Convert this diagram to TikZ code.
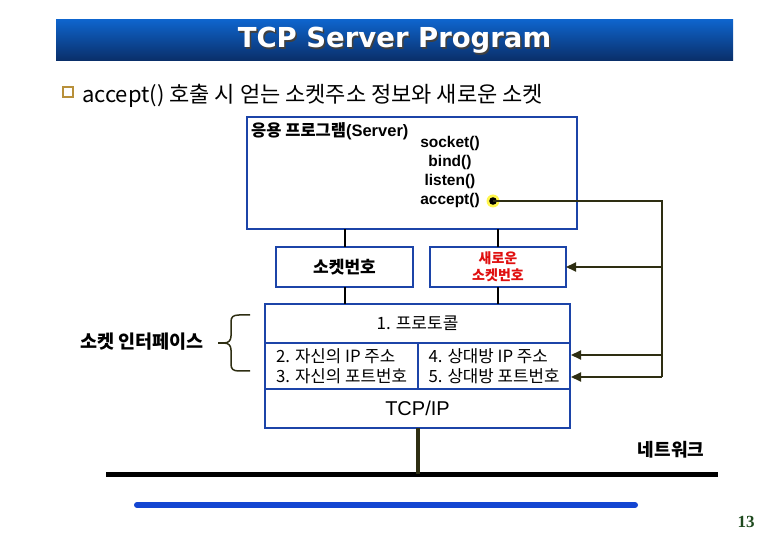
\documentclass[tikz,border=0pt]{standalone}
\usepackage{fontspec}
\setmainfont{Liberation Sans}
\newfontfamily\kr{Noto Sans CJK KR}
\newfontfamily\dv{DejaVu Sans}
\newfontfamily\srf{Liberation Serif}
\usetikzlibrary{arrows.meta}
\definecolor{boxblue}{HTML}{1C44A8}
\definecolor{olivedark}{HTML}{2E2E12}
\definecolor{newred}{HTML}{E01010}
\definecolor{titletop}{HTML}{0E64CC}
\definecolor{titlebot}{HTML}{0A2E68}
\definecolor{pagegreen}{HTML}{1F4A1F}
\definecolor{bulletgold}{HTML}{B8903A}
\definecolor{netblue}{HTML}{1446D2}
\begin{document}
\begin{tikzpicture}[x=1pt,y=-1pt,
  bx/.style={draw=boxblue, line width=2pt, fill=white, inner sep=0pt, outer sep=0pt},
  link/.style={draw=black, line width=2pt},
  feed/.style={draw=olivedark, line width=2pt},
  arr/.style={feed, -{Triangle[length=10pt,width=9pt]}},
  krb/.style={font=\kr\bfseries\fontsize{#1}{#1}\selectfont},
  krr/.style={font=\kr\fontsize{#1}{#1}\selectfont}
]
\useasboundingbox (0,0) rectangle (780,540);

% title bar
\node[inner sep=0pt, minimum width=677pt, minimum height=41pt,
      top color=titletop, bottom color=titlebot] (title) at (394.5,40.5) {};
\node[text=black!75, font=\dv\bfseries\fontsize{27.5}{27.5}\selectfont] (titleshadow) at (396,42) {TCP Server Program};
\node[text=white, font=\dv\bfseries\fontsize{27.5}{27.5}\selectfont] (titletext) at (394.5,40.5) {TCP Server Program};

% bullet line
\node[draw=bulletgold, line width=1.8pt, fill=white, minimum size=10pt, inner sep=0pt] (bul) at (68,92) {};
\node[anchor=west, inner sep=0pt, krr=22] (intro) at (82,96) {accept() 호출 시 얻는 소켓주소 정보와 새로운 소켓};

% application box
\node[bx, minimum width=330pt, minimum height=112pt] (app) at (412,173) {};
\node[anchor=west, inner sep=0pt] (applabel) at (251,131) {{\kr\bfseries\fontsize{16.5}{16.5}\selectfont 응용 프로그램}{\bfseries\fontsize{16.5}{16.5}\selectfont(Server)}};
\node[align=center, inner sep=0pt, font=\bfseries\fontsize{15.5}{19.3}\selectfont] (funcs) at (450,172) {socket()\\bind()\\listen()\\accept()};
\coordinate (dot) at (493,201);
\fill[yellow!70!white] (dot) circle (6.5pt);
\fill[black] (dot) circle (3.8pt);

% socket boxes
\node[bx, minimum width=137pt, minimum height=40pt, krb=17] (sock) at (344.5,267) {소켓번호};
\node[bx, minimum width=136pt, minimum height=40pt, align=center, text=newred,
      font=\kr\bfseries\fontsize{14}{17}\selectfont] (nsock) at (498,267) {새로운\\소켓번호};

% protocol stack
\node[bx, minimum width=305pt, minimum height=39pt, krr=17] (proto) at (417.5,323.5) {1. 프로토콜};
\node[bx, minimum width=153pt, minimum height=46pt, align=left,
      font=\kr\fontsize{16.8}{20.5}\selectfont] (mine) at (341.5,366) {2. 자신의 IP 주소\\3. 자신의 포트번호};
\node[bx, minimum width=152pt, minimum height=46pt, align=left,
      font=\kr\fontsize{16.8}{20.5}\selectfont] (peer) at (494,366) {4. 상대방 IP 주소\\5. 상대방 포트번호};
\node[bx, minimum width=305pt, minimum height=39pt, font=\fontsize{20}{20}\selectfont] (tcpip) at (417.5,408.5) {TCP/IP};

% vertical links
\draw[link] (sock.north) -- (sock.north |- app.south);
\draw[link] (sock.south) -- (sock.south |- proto.north);
\draw[link] (nsock.north) -- (nsock.north |- app.south);
\draw[link] (nsock.south) -- (nsock.south |- proto.north);

% feedback from accept()
\coordinate (rtop) at (662,201);
\coordinate (rbot) at (662,377);
\coordinate (a4) at (571,355);
\coordinate (a5) at (571,377);
\draw[feed] (dot) -- (rtop) -- (rbot);
\draw[arr] (rtop |- nsock.east) -- (nsock.east);
\draw[arr] (rtop |- a4) -- (a4);
\draw[arr] (rbot) -- (a5);

% socket interface brace
\node[anchor=east, inner sep=0pt, krb=18.5] (iface) at (204,342) {소켓 인터페이스};
\draw[olivedark, line width=1.5pt]
  (250,315) -- (239,315) .. controls (233,315) and (231,317) .. (231,322)
  -- (231,336) .. controls (231,340) and (229,343) .. (224,343)
  .. controls (229,343) and (231,346) .. (231,350)
  -- (231,364) .. controls (231,369) and (233,371) .. (239,371) -- (250,371);
\draw[olivedark, line width=1.5pt] (218,343) -- (226,343);

% network
\coordinate (netL) at (106,474);
\coordinate (netR) at (718,474);
\coordinate (netjoin) at (418,474);
\draw[black, line width=5pt] (netL) -- (netR);
\draw[draw=olivedark, line width=4pt] (tcpip.south -| mine.east) -- (netjoin);
\node[inner sep=0pt, krb=18] (netlabel) at (671,450) {네트워크};

% footer
\coordinate (blueL) at (137,505);
\coordinate (blueR) at (635,505);
\draw[netblue, line width=6pt, line cap=round] (blueL) -- (blueR);
\node[inner sep=0pt, text=pagegreen, font=\srf\bfseries\fontsize{17}{17}\selectfont] (pagenum) at (746,522) {13};
\end{tikzpicture}
\end{document}
